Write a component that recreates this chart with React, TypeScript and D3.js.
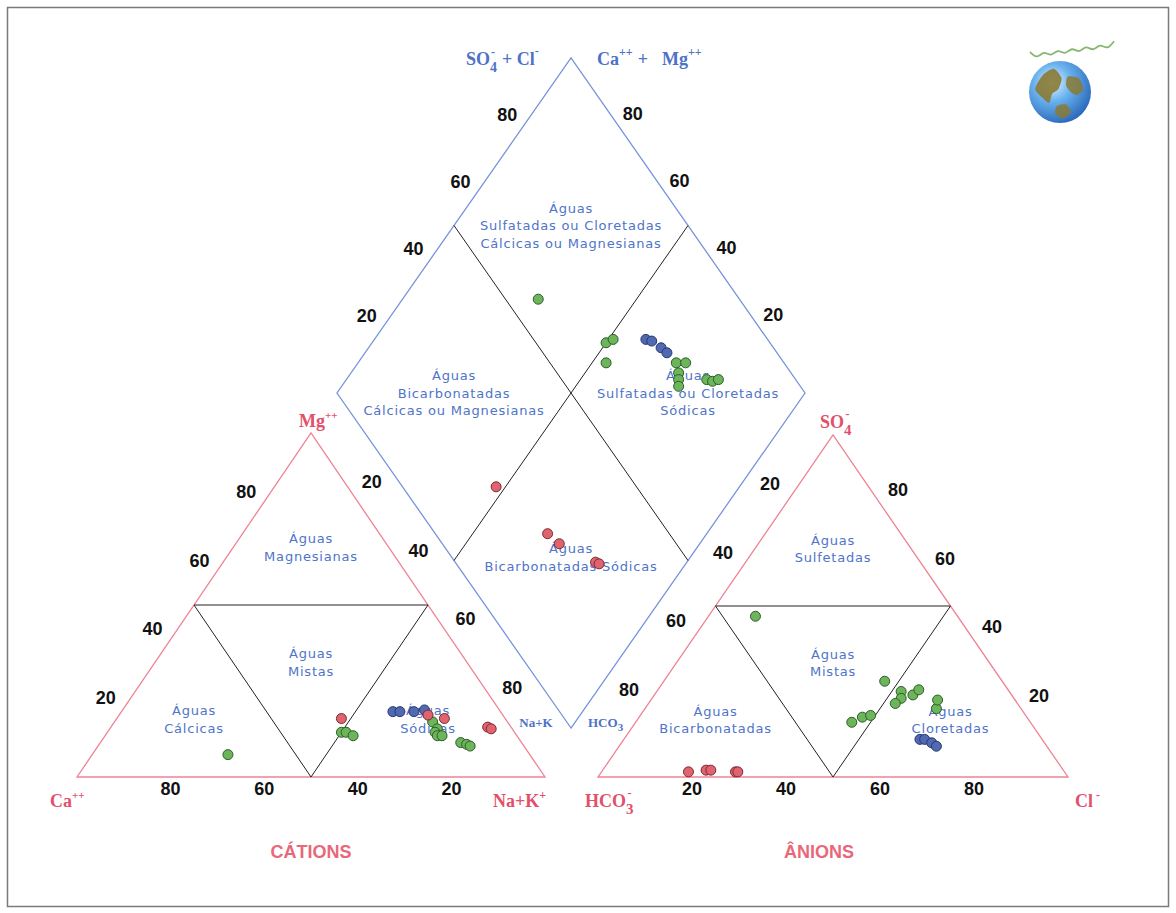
import React from 'react';
import * as d3 from 'd3';

// Sample groups (marker colour) and ionic percentages (meq %) per sample
const sampleGroup = ['g', 'g', 'g', 'g', 'g', 'g', 'g', 'g', 'g', 'g', 'g', 'g', 'b', 'b', 'b', 'b', 'r', 'r', 'r', 'r', 'r'];
const caPct = [64.5, 37, 36, 35, 16, 16, 17, 17, 16, 13, 12, 11.5, 23, 21.5, 18.5, 16, 35, 16, 13, 5, 4.5];
const mgPct = [6.5, 13, 13, 12, 16, 14, 13, 12, 12, 10, 9.5, 9, 19, 19, 19, 19.5, 17, 18, 17, 14.5, 14];
const naPct = [29, 50, 51, 53, 68, 70, 70, 71, 72, 77, 78.5, 79.5, 58, 59.5, 62.5, 64.5, 48, 66, 70, 80.5, 81.5];
const hco3Pct = [43, 35, 33, 38, 23, 21, 24, 25, 26, 19, 18, 16.5, 26, 25, 24, 23.5, 80, 76, 75, 70, 69.5];
const so4Pct = [47, 17.5, 18, 16, 25, 24, 23, 28, 21.5, 25.5, 20, 22.5, 11, 11, 10, 9, 1.5, 2, 2, 1.5, 1.5];
const clPct = [10, 47.5, 49, 46, 52, 55, 53, 47, 52.5, 55.5, 62, 61, 63, 64, 66, 67.5, 18.5, 22, 23, 28.5, 29];

const tickValues = [20, 40, 60, 80];

const groupFill: Record<string, string> = { g: '#6db55b', b: '#5169b0', r: '#e0646f' };
const groupStroke: Record<string, string> = { g: '#2e5c29', b: '#263872', r: '#7a2a32' };

// Layout scales
const catX = d3.scaleLinear().domain([0, 100]).range([77, 545]);
const catY = d3.scaleLinear().domain([0, 100]).range([777, 433]);
const anX = d3.scaleLinear().domain([0, 100]).range([598, 1068]);
const anY = d3.scaleLinear().domain([0, 100]).range([777, 435]);
const dmX = d3.scaleLinear().domain([-100, 100]).range([337, 805]);
const dmY = d3.scaleLinear().domain([0, 200]).range([728, 58]);

type Pt = [number, number];
// cation triangle: Na along base, Mg upward
const catPt = (na: number, mg: number): Pt => [catX(na + mg / 2), catY(mg)];
// anion triangle: Cl along base, SO4 upward
const anPt = (cl: number, so4: number): Pt => [anX(cl + so4 / 2), anY(so4)];
// diamond: u = Ca+Mg, w = SO4+Cl
const dmPt = (u: number, w: number): Pt => [dmX(w - u), dmY(u + w)];

const poly = (pts: Pt[]) => pts.map((p) => p.join(',')).join(' ');

const PINK_LINE = '#ef8294';
const BLUE_LINE = '#7595da';
const PINK_TEXT = '#e2506a';
const BLUE_TEXT = '#4d72c6';
const CLASS_TEXT = '#4f74c8';

const numFont = { fontFamily: 'Liberation Sans, Arial, sans-serif', fontWeight: 700, fontSize: 18, fill: '#111' };
const chemFont = { fontFamily: 'Liberation Serif, Times New Roman, serif', fontWeight: 700, fontSize: 18 };
const classFont = { fontFamily: 'DejaVu Sans, sans-serif', fontSize: 13, letterSpacing: 0.8, fill: CLASS_TEXT };

function ClassLabel({ at, lines }: { at: Pt; lines: string[] }) {
  const lh = 17.5;
  const top = at[1] - ((lines.length - 1) * lh) / 2;
  return (
    <text textAnchor="middle" {...classFont}>
      {lines.map((l, i) => (
        <tspan key={i} x={at[0]} y={top + i * lh} dy="0.35em">
          {l}
        </tspan>
      ))}
    </text>
  );
}

function TickLabels({ pos, off }: { pos: (v: number) => Pt; off: Pt }) {
  return (
    <g>
      {tickValues.map((v) => {
        const p = pos(v);
        return (
          <text key={v} x={p[0] + off[0]} y={p[1] + off[1]} textAnchor="middle" dominantBaseline="central" {...numFont}>
            {v}
          </text>
        );
      })}
    </g>
  );
}

function Globe({ cx, cy, r }: { cx: number; cy: number; r: number }) {
  const blob = d3.line<Pt>().curve(d3.curveCardinalClosed.tension(0.3));
  const landA: Pt[] = [[-0.55, -0.55], [-0.2, -0.75], [0.05, -0.45], [-0.05, -0.1], [-0.25, 0.05], [-0.35, 0.35], [-0.55, 0.2], [-0.8, -0.1]];
  const landB: Pt[] = [[0.25, -0.5], [0.6, -0.45], [0.75, -0.1], [0.55, 0.1], [0.35, 0.0], [0.2, -0.2]];
  const landC: Pt[] = [[-0.1, 0.45], [0.2, 0.4], [0.35, 0.65], [0.1, 0.85], [-0.15, 0.7]];
  const tr = (pts: Pt[]) => pts.map(([x, y]) => [cx + x * r, cy + y * r] as Pt);
  const wave = d3.line<Pt>().curve(d3.curveBasis);
  const wavePts: Pt[] = d3.range(0, 13).map((i) => [cx - 30 + i * 7, cy - 36 + (i % 2 === 0 ? -4 : 4) - i * 0.9] as Pt);
  return (
    <g>
      <defs>
        <radialGradient id="globeGrad" cx="0.38" cy="0.35" r="0.75">
          <stop offset="0" stopColor="#e2f4ff" />
          <stop offset="0.4" stopColor="#6ab2ee" />
          <stop offset="1" stopColor="#1f5cb2" />
        </radialGradient>
      </defs>
      <path d={wave(wavePts) || ''} fill="none" stroke="#86b872" strokeWidth={1.8} />
      <circle cx={cx} cy={cy} r={r} fill="url(#globeGrad)" />
      <path d={blob(tr(landA)) || ''} fill="#8a7a34" opacity={0.9} />
      <path d={blob(tr(landB)) || ''} fill="#8a7a34" opacity={0.85} />
      <path d={blob(tr(landC)) || ''} fill="#8a7a34" opacity={0.85} />
    </g>
  );
}

export default function App() {
  const n = sampleGroup.length;
  const idx = d3.range(n);
  const order = ['g', 'b', 'r'];
  const sorted = order.flatMap((g) => idx.filter((i) => sampleGroup[i] === g));

  const catTri: Pt[] = [catPt(0, 0), catPt(100, 0), catPt(0, 100)];
  const catInner: Pt[] = [catPt(0, 50), catPt(50, 50), catPt(50, 0)];
  const anTri: Pt[] = [anPt(0, 0), anPt(100, 0), anPt(0, 100)];
  const anInner: Pt[] = [anPt(0, 50), anPt(50, 50), anPt(50, 0)];
  const diamond: Pt[] = [dmPt(0, 0), dmPt(100, 0), dmPt(100, 100), dmPt(0, 100)];

  const mid = (a: Pt, b: Pt, c: Pt): Pt => [(a[0] + b[0] + c[0]) / 3, (a[1] + b[1] + c[1]) / 3];

  return (
    <svg
      width={1176}
      height={913}
      style={{ position: 'absolute', left: 0, top: 0, background: '#fff' }}
    >
      <rect x={7.5} y={7.5} width={1161} height={899} fill="#fff" stroke="#7a7a7a" strokeWidth={1.5} />

      {/* outlines */}
      <polygon points={poly(diamond)} fill="none" stroke={BLUE_LINE} strokeWidth={1.3} />
      <line x1={dmPt(0, 50)[0]} y1={dmPt(0, 50)[1]} x2={dmPt(100, 50)[0]} y2={dmPt(100, 50)[1]} stroke="#222" strokeWidth={1} />
      <line x1={dmPt(50, 0)[0]} y1={dmPt(50, 0)[1]} x2={dmPt(50, 100)[0]} y2={dmPt(50, 100)[1]} stroke="#222" strokeWidth={1} />
      <polygon points={poly(catTri)} fill="none" stroke={PINK_LINE} strokeWidth={1.3} />
      <polygon points={poly(catInner)} fill="none" stroke="#222" strokeWidth={1} />
      <polygon points={poly(anTri)} fill="none" stroke={PINK_LINE} strokeWidth={1.3} />
      <polygon points={poly(anInner)} fill="none" stroke="#222" strokeWidth={1} />

      {/* class labels */}
      <ClassLabel at={mid(catPt(0, 100), catPt(0, 50), catPt(50, 50))} lines={['Águas', 'Magnesianas']} />
      <ClassLabel at={mid(catPt(0, 50), catPt(50, 50), catPt(50, 0))} lines={['Águas', 'Mistas']} />
      <ClassLabel at={mid(catPt(0, 0), catPt(0, 50), catPt(50, 0))} lines={['Águas', 'Cálcicas']} />
      <ClassLabel at={mid(catPt(100, 0), catPt(50, 50), catPt(50, 0))} lines={['Águas', 'Sódicas']} />
      <ClassLabel at={mid(anPt(0, 100), anPt(0, 50), anPt(50, 50))} lines={['Águas', 'Sulfetadas']} />
      <ClassLabel at={mid(anPt(0, 50), anPt(50, 50), anPt(50, 0))} lines={['Águas', 'Mistas']} />
      <ClassLabel at={mid(anPt(0, 0), anPt(0, 50), anPt(50, 0))} lines={['Águas', 'Bicarbonatadas']} />
      <ClassLabel at={mid(anPt(100, 0), anPt(50, 50), anPt(50, 0))} lines={['Águas', 'Cloretadas']} />
      <ClassLabel at={dmPt(75, 75)} lines={['Águas', 'Sulfatadas ou Cloretadas', 'Cálcicas ou Magnesianas']} />
      <ClassLabel at={dmPt(75, 25)} lines={['Águas', 'Bicarbonatadas', 'Cálcicas ou Magnesianas']} />
      <ClassLabel at={dmPt(25, 75)} lines={['Águas', 'Sulfatadas ou Cloretadas', 'Sódicas']} />
      <ClassLabel at={[dmPt(25, 25)[0], dmPt(25, 25)[1] - 3]} lines={['Águas', 'Bicarbonatadas Sódicas']} />

      {/* tick labels */}
      <TickLabels pos={(v) => catPt(0, v)} off={[-18, -10]} />
      <TickLabels pos={(v) => catPt(100 - v, 0)} off={[0, 12]} />
      <TickLabels pos={(v) => catPt(v, 100 - v)} off={[14, -20]} />
      <TickLabels pos={(v) => anPt(v, 0)} off={[0, 12]} />
      <TickLabels pos={(v) => anPt(100 - v, v)} off={[18, -13]} />
      <TickLabels pos={(v) => anPt(0, 100 - v)} off={[-16, -19]} />
      <TickLabels pos={(v) => dmPt(100, v)} off={[-17, -10]} />
      <TickLabels pos={(v) => dmPt(v, 100)} off={[15, -11]} />

      {/* samples */}
      {sorted.map((i) => {
        const c = catPt(naPct[i], mgPct[i]);
        const a = anPt(clPct[i], so4Pct[i]);
        const d = dmPt(caPct[i] + mgPct[i], so4Pct[i] + clPct[i]);
        const f = groupFill[sampleGroup[i]];
        const s = groupStroke[sampleGroup[i]];
        return (
          <g key={i} fill={f} stroke={s} strokeWidth={1}>
            <circle cx={c[0]} cy={c[1]} r={5} />
            <circle cx={a[0]} cy={a[1]} r={5} />
            <circle cx={d[0]} cy={d[1]} r={5} />
          </g>
        );
      })}

      {/* vertex labels */}
      <g {...chemFont} fill={PINK_TEXT}>
        <text x={50} y={807}>
          Ca<tspan dy={-8} fontSize={11}>++</tspan>
        </text>
        <text x={493} y={807}>
          Na+K<tspan dy={-8} fontSize={12}>+</tspan>
        </text>
        <text x={299} y={427}>
          Mg<tspan dy={-8} fontSize={11}>++</tspan>
        </text>
        <text x={585} y={807}>
          HCO<tspan dy={7} fontSize={15}>3</tspan>
          <tspan dx={-6} dy={-17} fontSize={12}>-</tspan>
        </text>
        <text x={1075} y={807}>
          Cl<tspan dx={3} dy={-8} fontSize={12}>-</tspan>
        </text>
        <text x={820} y={428}>
          SO<tspan dy={7} fontSize={15}>4</tspan>
          <tspan dx={-6} dy={-17} fontSize={12}>-</tspan>
        </text>
      </g>
      <g {...chemFont} fill={BLUE_TEXT}>
        <text x={466} y={65}>
          SO<tspan dy={7} fontSize={14}>4</tspan>
          <tspan dx={-6} dy={-16} fontSize={12}>-</tspan>
          <tspan dx={7} dy={9}>+ Cl</tspan>
          <tspan dy={-10} fontSize={12}>-</tspan>
        </text>
        <text x={597} y={65}>
          Ca<tspan dy={-9} fontSize={12}>++</tspan>
          <tspan dx={5} dy={9}>+</tspan>
          <tspan dx={14}>Mg</tspan>
          <tspan dy={-9} fontSize={12}>++</tspan>
        </text>
      </g>
      <g {...chemFont} fontSize={13} fill={BLUE_TEXT}>
        <text x={dmPt(0, 0)[0] - 35} y={727} textAnchor="middle">Na+K</text>
        <text x={dmPt(0, 0)[0] + 17} y={727}>
          HCO<tspan dy={4} fontSize={11}>3</tspan>
        </text>
      </g>

      {/* panel titles */}
      <g fontFamily="Liberation Sans, Arial, sans-serif" fontWeight={700} fontSize={18} fill="#e8687a">
        <text x={catX(50)} y={858} textAnchor="middle">CÁTIONS</text>
        <text x={anX(47)} y={858} textAnchor="middle">ÂNIONS</text>
      </g>

      <Globe cx={1060} cy={92} r={31} />
    </svg>
  );
}
